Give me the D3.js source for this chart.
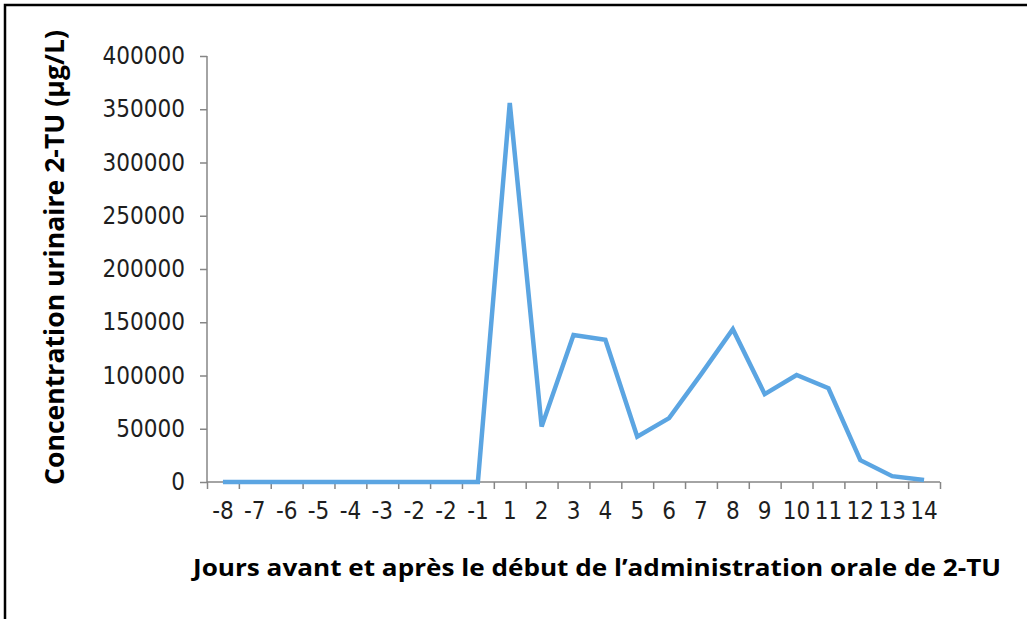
<!DOCTYPE html>
<html>
<head>
<meta charset="utf-8">
<script src="https://cdn.jsdelivr.net/npm/d3@7"></script>
<style>
    body { margin: 0; background: #fff; }
    .tick text { font-family: "DejaVu Sans", sans-serif; font-stretch: condensed; fill: #1e1e1e; }
    .title { font-family: "Open Sans", sans-serif; font-weight: bold; fill: #000; }
</style>
</head>
<body>
<div id="chart"></div>
<script>
// days before / after start of oral 2-TU administration (label "-2" appears twice in the source)
var dayLabels = ["-8", "-7", "-6", "-5", "-4", "-3", "-2", "-2", "-1",
    "1", "2", "3", "4", "5", "6", "7", "8", "9", "10", "11", "12", "13", "14"];
// urinary 2-TU concentration (µg/L)
var concentration = [0, 0, 0, 0, 0, 0, 0, 0, 0,
    356000, 52000, 138000, 133500, 42500, 60000, 101000, 143500, 82500, 100500, 88000, 20500, 5500, 1800];
var yTicks = [0, 50000, 100000, 150000, 200000, 250000, 300000, 350000, 400000];

(function () {
    var width = 1027, height = 619;
    var mLeft = 207, mRight = 940, mTop = 56, mBottom = 482;

    var svg = d3.select("#chart").append("svg")
        .attr("width", width)
        .attr("height", height);

    // frame
    svg.append("path")
        .attr("d", "M5," + height + "V5H" + width)
        .attr("fill", "none")
        .attr("stroke", "#000")
        .attr("stroke-width", 2.5);

    var x = d3.scaleBand()
        .domain(d3.range(dayLabels.length))
        .range([mLeft, mRight])
        .padding(0);

    // category boundaries for tick marks (Excel style, ticks between categories)
    var xEdge = d3.scaleLinear()
        .domain([0, dayLabels.length])
        .range([mLeft, mRight]);

    var y = d3.scaleLinear()
        .domain([0, 400000])
        .range([mBottom, mTop]);

    var axisColor = "#868686";

    // y axis
    var gy = svg.append("g")
        .attr("transform", "translate(" + mLeft + ",0)")
        .call(d3.axisLeft(y).tickValues(yTicks).tickSize(7).tickPadding(15).tickFormat(d3.format("d")));
    gy.select(".domain").attr("stroke", axisColor).attr("stroke-width", 1.5).attr("d", "M0," + mTop + "V" + mBottom);
    gy.selectAll(".tick line").attr("stroke", axisColor).attr("stroke-width", 1.5);
    gy.selectAll(".tick text").style("font-size", "24px");

    // x axis: tick marks at category edges
    var gx = svg.append("g")
        .attr("transform", "translate(0," + mBottom + ")")
        .call(d3.axisBottom(xEdge).tickValues(d3.range(dayLabels.length + 1)).tickSize(7).tickFormat(""));
    gx.select(".domain").attr("stroke", axisColor).attr("stroke-width", 1.5).attr("d", "M" + mLeft + ",0H" + mRight);
    gx.selectAll(".tick line").attr("stroke", axisColor).attr("stroke-width", 1.5);

    // x axis labels centred in categories
    var gl = svg.append("g")
        .attr("transform", "translate(0," + mBottom + ")")
        .call(d3.axisBottom(x).tickSize(0).tickPadding(20).tickFormat(function (i) { return dayLabels[i]; }));
    gl.select(".domain").remove();
    gl.selectAll(".tick text").style("font-size", "24px");

    // series
    var line = d3.line()
        .x(function (d, i) { return x(i) + x.bandwidth() / 2; })
        .y(function (d) { return y(d); });

    svg.append("path")
        .datum(concentration)
        .attr("d", line)
        .attr("fill", "none")
        .attr("stroke", "#5BA5E2")
        .attr("stroke-width", 4.5);

    // axis titles
    svg.append("text")
        .attr("class", "title")
        .attr("x", 193)
        .attr("y", 576)
        .attr("textLength", 808)
        .attr("lengthAdjust", "spacingAndGlyphs")
        .style("font-size", "24px")
        .text("Jours avant et après le début de l’administration orale de 2-TU");

    svg.append("text")
        .attr("class", "title")
        .attr("transform", "translate(64,485) rotate(-90)")
        .attr("textLength", 455)
        .attr("lengthAdjust", "spacingAndGlyphs")
        .style("font-size", "26px")
        .text("Concentration urinaire  2-TU (µg/L)");
})();
</script>
</body>
</html>
